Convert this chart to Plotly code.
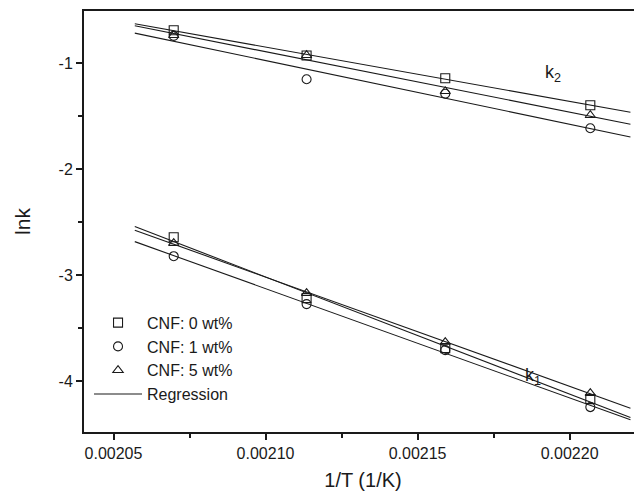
import numpy as np
import plotly.graph_objects as go

# 1/T values (1/K)
inv_T = [0.0020698, 0.0021135, 0.0021591, 0.0022068]

# ln k values
k2_cnf0 = [-0.692, -0.930, -1.144, -1.399]
k2_cnf1 = [-0.745, -1.154, -1.290, -1.616]
k2_cnf5 = [-0.739, -0.927, -1.267, -1.493]

k1_cnf0 = [-2.643, -3.218, -3.689, -4.170]
k1_cnf1 = [-2.822, -3.274, -3.708, -4.245]
k1_cnf5 = [-2.699, -3.171, -3.632, -4.113]

series_names = ["CNF: 0 wt%", "CNF: 1 wt%", "CNF: 5 wt%"]
series_symbols = ["square-open", "circle-open", "triangle-up-open"]
k1_sets = [k1_cnf0, k1_cnf1, k1_cnf5]
k2_sets = [k2_cnf0, k2_cnf1, k2_cnf5]

fit_x_range = [0.002057, 0.00222]

x_ticks = [0.00205, 0.00210, 0.00215, 0.00220]
x_tick_text = ["0.00205", "0.00210", "0.00215", "0.00220"]
y_ticks = [-1, -2, -3, -4]
y_tick_text = ["-1", "-2", "-3", "-4"]

FONT = "Liberation Sans, Arial, sans-serif"
INK = "#1a1a1a"

fig = go.Figure()

for name, sym, k1v, k2v in zip(series_names, series_symbols, k1_sets, k2_sets):
    fig.add_trace(go.Scatter(
        x=inv_T + inv_T, y=k2v + k1v, mode="markers", name=name,
        marker=dict(symbol=sym, size=9, color=INK, line=dict(width=1.1, color=INK)),
    ))

first = True
for sets in (k2_sets, k1_sets):
    for vals in sets:
        slope, intercept = np.polyfit(inv_T, vals, 1)
        xs = np.array(fit_x_range)
        fig.add_trace(go.Scatter(
            x=xs, y=slope * xs + intercept, mode="lines", name="Regression",
            line=dict(color=INK, width=1.1), showlegend=first,
            legendgroup="reg",
        ))
        first = False

fig.add_annotation(x=0.0021945, y=-1.10, text="k<sub>2</sub>", showarrow=False,
                   font=dict(family=FONT, size=18, color=INK))
fig.add_annotation(x=0.0021880, y=-3.96, text="k<sub>1</sub>", showarrow=False,
                   font=dict(family=FONT, size=18, color=INK))

axis_common = dict(
    showgrid=False, zeroline=False, showline=True, linecolor=INK, linewidth=2,
    ticks="outside", ticklen=6, tickwidth=1.5, tickcolor=INK,
    tickfont=dict(family=FONT, size=16, color=INK),
)

# the page body adds an 8px offset, so the figure is sized to fit the window
fig.update_layout(
    width=634, height=493,
    margin=dict(l=76, r=0, t=3, b=69),
    paper_bgcolor="white", plot_bgcolor="white",
    font=dict(family=FONT, color=INK),
    xaxis=dict(
        range=[0.0020403, 0.0022238], tickvals=x_ticks, ticktext=x_tick_text,
        mirror=True,
        minor=dict(ticks="outside", ticklen=4, tickcolor=INK, dtick=0.000025, tick0=0.002025),
        title=dict(text="1/T (1/K)", font=dict(family=FONT, size=20, color=INK), standoff=12),
        **axis_common,
    ),
    yaxis=dict(
        range=[-4.48, -0.51], tickvals=y_ticks, ticktext=y_tick_text,
        mirror=False,
        minor=dict(ticks="outside", ticklen=4, tickcolor=INK, dtick=0.5, tick0=-0.5),
        title=dict(text="lnk", font=dict(family=FONT, size=21, color=INK), standoff=22),
        **axis_common,
    ),
    legend=dict(
        x=0.009, y=0.30, xanchor="left", yanchor="top",
        bgcolor="rgba(0,0,0,0)", font=dict(family=FONT, size=16, color=INK),
        itemwidth=48, tracegroupgap=0,
    ),
)

fig.write_html("out.html")
